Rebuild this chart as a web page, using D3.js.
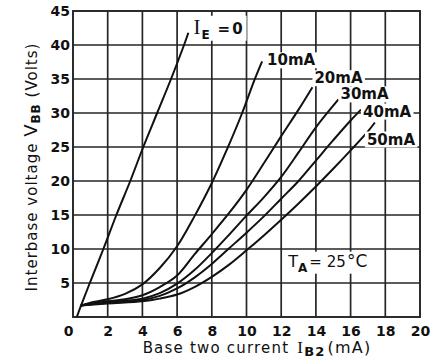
<!DOCTYPE html>
<html>
<head>
<meta charset="utf-8">
<script src="https://cdn.jsdelivr.net/npm/d3@7"></script>
<style>
  body { margin: 0; background: #fff; }
  svg { display: block; }
  text { font-family: "DejaVu Sans", sans-serif; fill: #111; }
</style>
</head>
<body>
<svg id="chart"></svg>
<script>
// Values: [I_B2 (mA), V_BB (Volts)]
var curveIE0 = [[0.22,0],[0.45,1.6],[1,5.2],[1.75,10],[2.5,15],[3.3,20],[4.05,25],[4.85,30],[5.65,35],[6.4,40],[6.65,41.8]];
var curveIE10 = [[0.45,1.7],[1,2.1],[2,2.6],[3,3.4],[4,4.8],[5,7.2],[6,10.4],[7,14.8],[8,19.7],[8.9,24.8],[9.75,30],[10.45,34.8],[10.9,37.6]];
var curveIE20 = [[0.45,1.7],[2,2.3],[3,2.6],[4,3.2],[5,4.4],[6,6.1],[7,9.2],[8,12.2],[9,15.3],[10,18.7],[11,22.6],[12,26.6],[13,30.5],[13.8,33.8]];
var curveIE30 = [[0.45,1.7],[2,2.2],[4,2.7],[5,3.5],[6,4.9],[7,6.9],[8,9.4],[9,12.1],[10,14.9],[11,17.6],[12,20.6],[13,24.2],[14,27.9],[15.3,32]];
var curveIE40 = [[0.45,1.7],[2,2.1],[4,2.5],[5,3.1],[6,4.2],[7,5.8],[8,7.8],[9,10.1],[10,12.4],[11,14.8],[12,17.4],[13,20],[14,23],[15,26],[16,28.9],[16.6,30.5]];
var curveIE50 = [[0.45,1.7],[2,2.0],[4,2.3],[5,2.7],[6,3.3],[7,4.4],[8,5.9],[9,7.7],[10,9.8],[11,12.0],[12,14.3],[13,16.7],[14,19.2],[15,21.8],[16,24.5],[17,27.3],[17.4,28.6]];

var seriesLabels = ["0", "10mA", "20mA", "30mA", "40mA", "50mA"];
var xTicks = [0, 2, 4, 6, 8, 10, 12, 14, 16, 18, 20];
var yTicks = [5, 10, 15, 20, 25, 30, 35, 40, 45];
var gridX = [2, 4, 6, 8, 10, 12, 14, 16, 18];
var gridY = [5, 10, 15, 20, 25, 30, 35, 40];

var svgWidth = 437;
var svgHeight = 359;
var margin = { top: 11, right: 17, bottom: 42, left: 73 };
var chartWidth = svgWidth - margin.left - margin.right;
var chartHeight = svgHeight - margin.top - margin.bottom;

var svg = d3.select("#chart")
  .attr("width", svgWidth)
  .attr("height", svgHeight);

var chart = svg.append("g")
  .attr("transform", "translate(" + margin.left + "," + margin.top + ")");

var xScale = d3.scaleLinear().domain([0, 20]).range([0, chartWidth]);
var yScale = d3.scaleLinear().domain([0, 45]).range([chartHeight, 0]);

// grid
chart.selectAll(".gx")
  .data(gridX)
  .enter()
  .append("line")
  .attr("x1", function (d) { return xScale(d); })
  .attr("x2", function (d) { return xScale(d); })
  .attr("y1", 0)
  .attr("y2", chartHeight)
  .attr("stroke", "#262626")
  .attr("stroke-width", 1.7);

chart.selectAll(".gy")
  .data(gridY)
  .enter()
  .append("line")
  .attr("y1", function (d) { return yScale(d); })
  .attr("y2", function (d) { return yScale(d); })
  .attr("x1", 0)
  .attr("x2", chartWidth)
  .attr("stroke", "#262626")
  .attr("stroke-width", 1.7);

chart.append("rect")
  .attr("width", chartWidth)
  .attr("height", chartHeight)
  .attr("fill", "none")
  .attr("stroke", "#222")
  .attr("stroke-width", 1.9);

// axes (labels only)
var xAxis = chart.append("g")
  .attr("transform", "translate(0," + chartHeight + ")")
  .call(d3.axisBottom(xScale).tickValues(xTicks).tickSize(0).tickPadding(9));
xAxis.select(".domain").remove();
xAxis.selectAll("text")
  .style("font-size", "14px")
  .style("font-weight", "bold")
  .attr("fill", "#111");
xAxis.selectAll("text").filter(function (d) { return d === 0; }).attr("dx", "-5");

var yAxis = chart.append("g")
  .call(d3.axisLeft(yScale).tickValues(yTicks).tickSize(0).tickPadding(3));
yAxis.select(".domain").remove();
yAxis.selectAll("text")
  .style("font-size", "14px")
  .style("font-weight", "bold")
  .attr("fill", "#111");

// curves
var line = d3.line()
  .x(function (d) { return xScale(d[0]); })
  .y(function (d) { return yScale(d[1]); })
  .curve(d3.curveCatmullRom.alpha(0.5));

var curves = [curveIE0, curveIE10, curveIE20, curveIE30, curveIE40, curveIE50];

chart.selectAll(".curve")
  .data(curves)
  .enter()
  .append("path")
  .attr("class", "curve")
  .attr("d", line)
  .attr("fill", "none")
  .attr("stroke", "#111")
  .attr("stroke-width", 2);

// curve labels, placed next to the curve ends
var labelOffsets = [[5, 1], [5, 4], [2, -4], [2, 0], [2, 7], [-8, 22]];

function addLabelBox(g) {
  var bb = g.node().getBBox();
  g.insert("rect", ":first-child")
    .attr("x", bb.x - 2)
    .attr("y", bb.y + 1)
    .attr("width", bb.width + 4)
    .attr("height", bb.height - 2)
    .attr("fill", "#fff");
}

curves.forEach(function (c, i) {
  var end = c[c.length - 1];
  var g = chart.append("g")
    .attr("transform", "translate(" + (xScale(end[0]) + labelOffsets[i][0]) + "," + (yScale(end[1]) + labelOffsets[i][1]) + ")");
  var t = g.append("text").style("font-size", "15px").style("font-weight", "bold");
  if (i === 0) {
    t.append("tspan").text("I").style("font-family", "Liberation Serif, serif").style("font-size", "21px").style("font-weight", "normal");
    t.append("tspan").text("E").attr("dx", 1).attr("dy", 5).style("font-size", "12px");
    t.append("tspan").text("=" + seriesLabels[0]).attr("dx", 8).attr("dy", -5).style("letter-spacing", "2px");
  } else {
    t.text(seriesLabels[i]);
  }
  addLabelBox(g);
});

// temperature note
var tg = chart.append("g").attr("transform", "translate(" + xScale(12.4) + "," + yScale(7.4) + ")");
var tt = tg.append("text").style("font-size", "15px");
tt.append("tspan").text("T").style("font-size", "16px");
tt.append("tspan").text("A").attr("dy", 5).style("font-size", "12px").style("font-weight", "bold");
tt.append("tspan").text("=").attr("dx", 2).attr("dy", -5);
tt.append("tspan").text("25").attr("dx", 5);
tt.append("tspan").text("\u00b0C").attr("dx", 1).style("font-size", "17px");
addLabelBox(tg);

// axis titles
var xt = svg.append("text")
  .attr("x", 257)
  .attr("y", 353)
  .attr("text-anchor", "middle")
  .style("font-size", "15px")
  .style("letter-spacing", "1.2px");
xt.append("tspan").text("Base two current ");
xt.append("tspan").text("I").attr("dx", 2).style("font-family", "Liberation Serif, serif").style("font-size", "17px");
xt.append("tspan").text("B2").attr("dy", 3).style("font-size", "13px").style("font-weight", "bold");
xt.append("tspan").text("(mA)").attr("dx", 2).attr("dy", -3).style("font-size", "16px");

var yt = svg.append("text")
  .attr("transform", "translate(37," + 167 + ") rotate(-90)")
  .attr("text-anchor", "middle")
  .style("font-size", "15px")
  .style("letter-spacing", "1px");
yt.append("tspan").text("Interbase voltage ");
yt.append("tspan").text("V").style("font-size", "18px");
yt.append("tspan").text("BB").attr("dy", 3).style("font-size", "12px").style("font-weight", "bold");
yt.append("tspan").text(" (Volts)").attr("dy", -3);
</script>
</body>
</html>
